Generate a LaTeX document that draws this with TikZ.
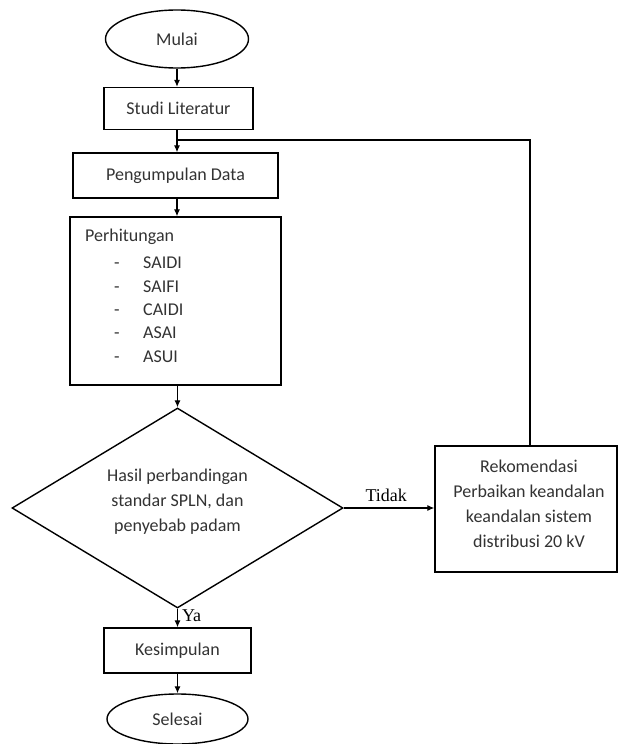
\documentclass[tikz,border=0pt]{standalone}
\usepackage{fontspec}
\setmainfont{Carlito}
\newfontfamily\serifrm{Liberation Serif}
\usetikzlibrary{shapes.geometric,arrows.meta}
\begin{document}
\begin{tikzpicture}[x=1pt,y=-1pt,
  every node/.style={font=\fontsize{18}{25}\selectfont, text=black!80},
  boxnode/.style={draw=black, line width=1.4pt, rectangle, inner sep=0pt},
  termnode/.style={draw=black, line width=1.4pt, ellipse, inner sep=0pt},
  decnode/.style={draw=black, line width=1.4pt, diamond, inner sep=0pt, shape aspect=1.655, align=center},
  conn/.style={draw=black, line width=1.1pt},
  arr/.style={conn, -{Latex[length=7pt,width=6pt]}},
  lbl/.style={inner sep=0pt, font=\serifrm\fontsize{18}{22}\selectfont, text=black}
]
\fill[white] (0,0) rectangle (619,744);
\useasboundingbox (0,0) rectangle (619,744);

\node[termnode, minimum width=143pt, minimum height=58pt] (mulai) at (177,39) {Mulai};
\node[boxnode, minimum width=149pt, minimum height=42pt] (studi) at (178.5,108.5) {Studi Literatur};
\node[boxnode, minimum width=205pt, minimum height=45pt] (data) at (175.5,175.5) {Pengumpulan Data};
\node[boxnode, minimum width=211pt, minimum height=168pt] (hitung) at (175.5,301) {};
\node[anchor=west, inner sep=0pt] (hitungT) at (85,237) {Perhitungan};
\foreach \i/\t/\yy in {1/SAIDI/263, 2/SAIFI/287, 3/CAIDI/310, 4/ASAI/333, 5/ASUI/357}{
  \node[anchor=center, inner sep=0pt] (dash\i) at (117,\yy+3) {-};
  \node[anchor=west, inner sep=0pt] (item\i) at (143,\yy) {\t};
}
\node[decnode, minimum width=331pt, minimum height=200pt] (hasil) at (177.5,508) {};
\node[align=center, inner sep=0pt] (hasilT) at (177.5,502) {Hasil perbandingan\\standar SPLN, dan\\penyebab padam};
\node[boxnode, minimum width=182pt, minimum height=126pt] (rek) at (526,509) {};
\node[align=center, inner sep=0pt] (rekT) at (529,504) {Rekomendasi\\Perbaikan keandalan\\keandalan sistem\\distribusi 20 kV};
\node[boxnode, minimum width=147pt, minimum height=45pt] (kes) at (177.5,650.5) {Kesimpulan};
\node[termnode, minimum width=141pt, minimum height=50pt] (selesai) at (177.5,719) {Selesai};

\coordinate (junc) at (177,140);
\coordinate (rektop) at (530,446);

\draw[arr] (mulai.south) -- (mulai.south |- studi.north);
\draw[arr] (studi.south -| junc) -- (junc |- data.north);
\draw[conn] (rektop) |- (junc);
\draw[arr] (data.south -| junc) -- (junc |- hitung.north);
\draw[arr] (hitung.south -| hasil.north) -- (hasil.north);
\draw[arr] (hasil.east) -- (rek.west |- hasil.east)
  node[lbl, pos=0.47, above=6pt] (tidak) {Tidak};
\draw[arr] (hasil.south) -- (hasil.south |- kes.north)
  node[lbl, pos=0.4, anchor=west, xshift=4pt] (ya) {Ya};
\draw[arr] (kes.south) -- (kes.south |- selesai.north);
\end{tikzpicture}
\end{document}
